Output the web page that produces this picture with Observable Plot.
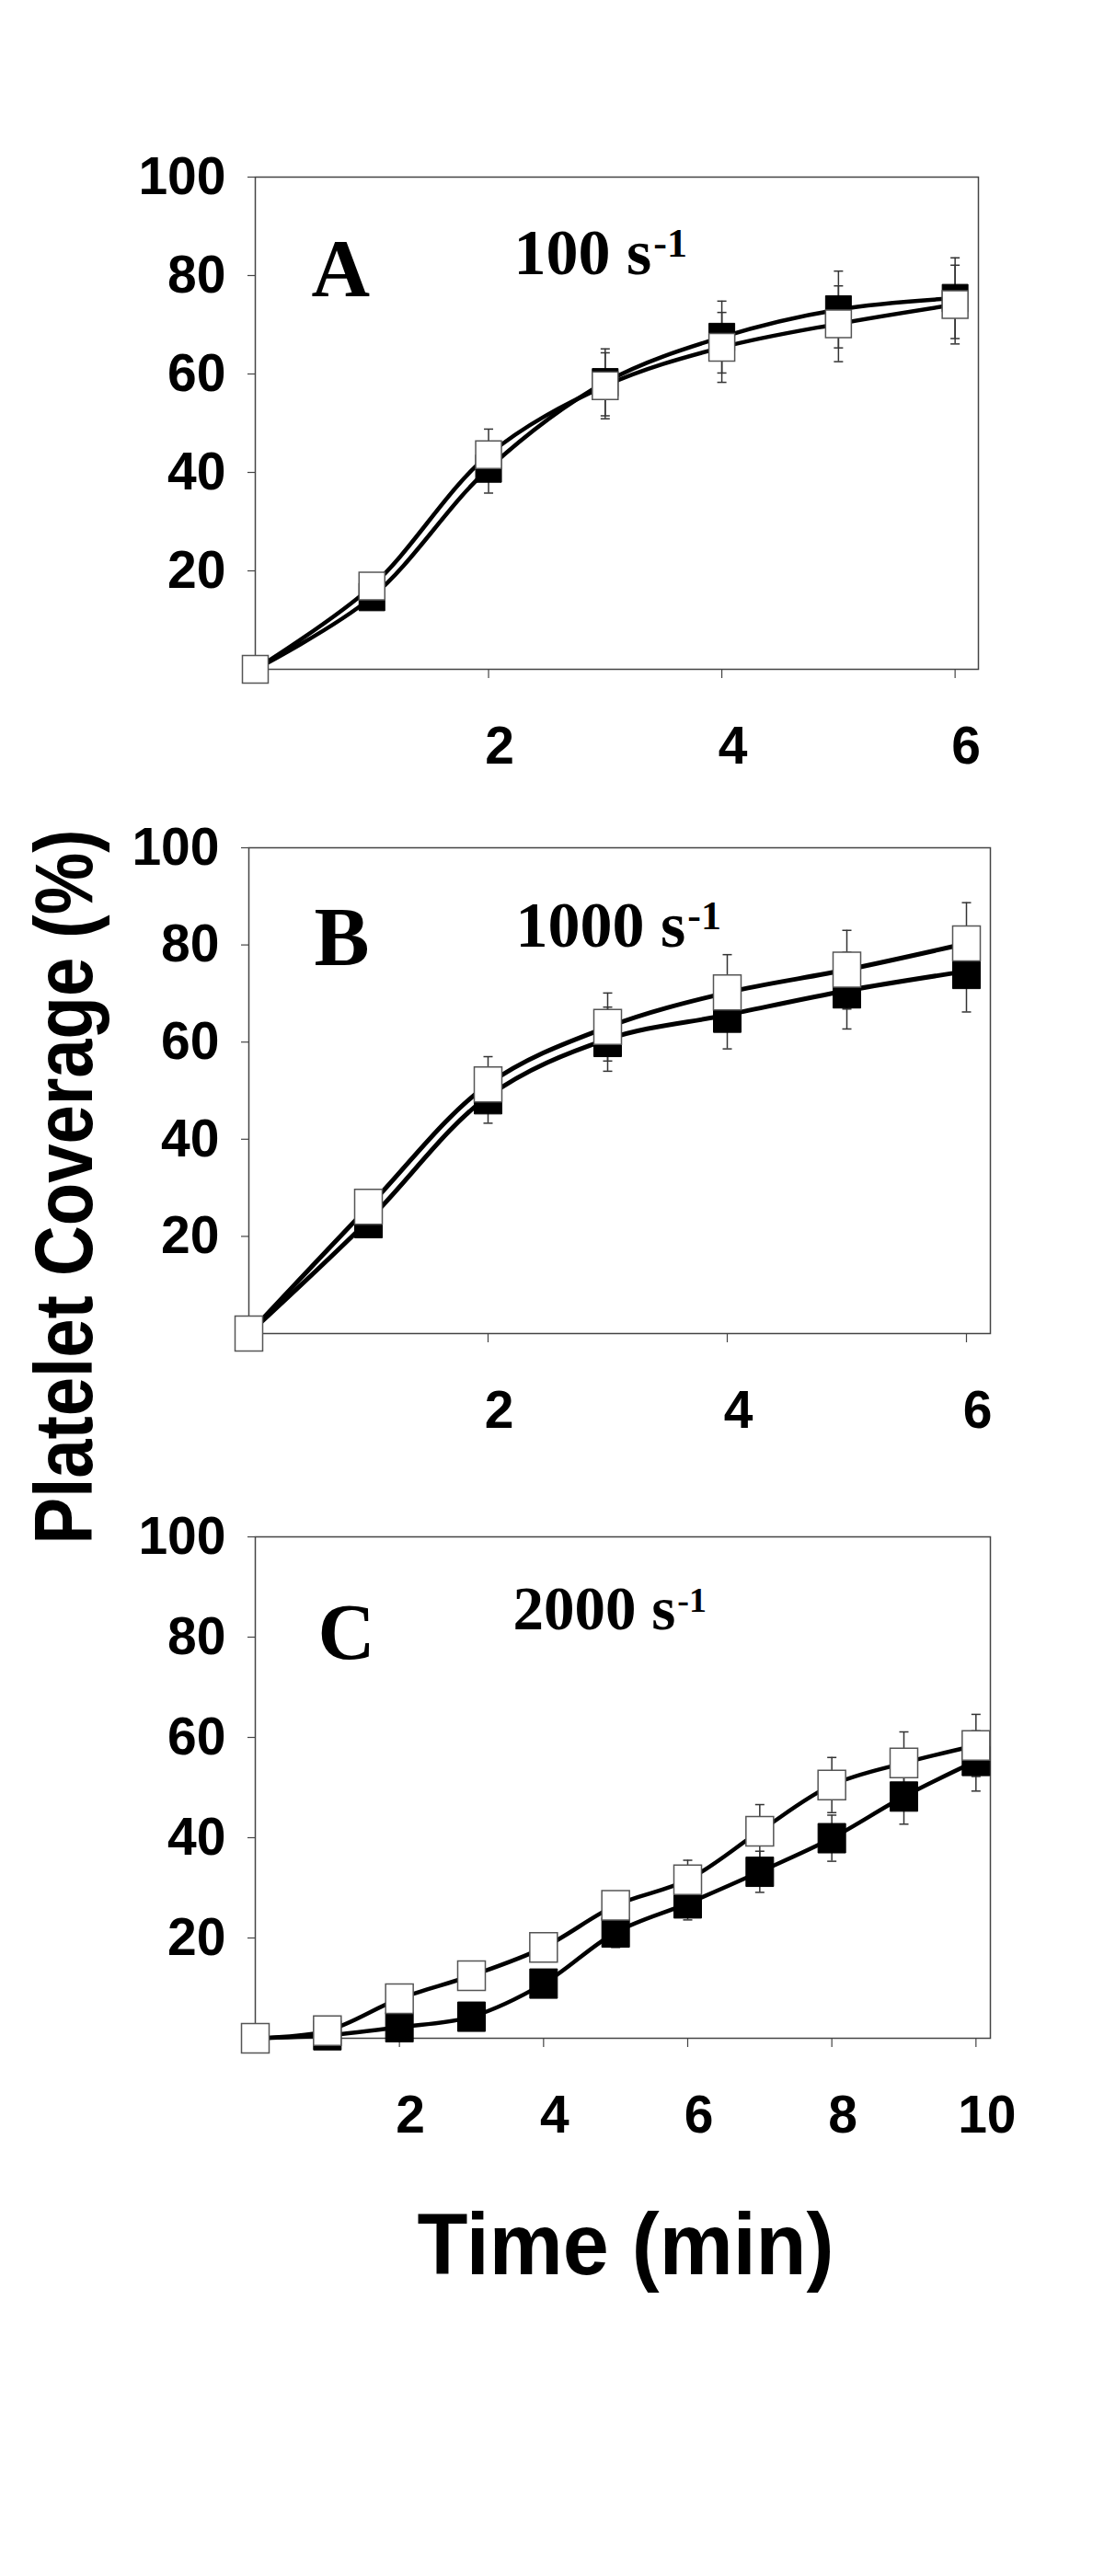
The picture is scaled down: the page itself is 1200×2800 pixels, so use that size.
<!DOCTYPE html>
<html>
<head>
<meta charset="utf-8">
<script src="https://cdn.jsdelivr.net/npm/d3@7"></script>
<script src="https://cdn.jsdelivr.net/npm/@observablehq/plot@0.6"></script>
<style>
  html, body { margin: 0; padding: 0; background: #fff; overflow: hidden; }
  #page { position: relative; width: 1200px; height: 2800px; background: #fff; }
  .panel { position: absolute; left: 0; }
  #titles { position: absolute; left: 0; top: 0; pointer-events: none; }
</style>
</head>
<body>
<div id="page"></div>
<script>
// ---------- DATA ----------
const panelLetters = ["A", "B", "C"];
const shearLabels = ["100 s", "1000 s", "2000 s"];
const shearExponent = "-1";
const yTicks = [20, 40, 60, 80, 100];
const xTicksAB = [2, 4, 6];
const xTicksC = [2, 4, 6, 8, 10];
const yAxisTitle = "Platelet Coverage (%)";
const xAxisTitle = "Time (min)";

// Panel A — 100 s-1
const timeA = [0, 1, 2, 3, 4, 5, 6];
const aFilled = [0, 14.7, 40.8, 58.3, 67.5, 73.1, 75.4];
const aFilledSD = [0, 2.5, 5.0, 6.8, 7.3, 7.8, 8.2];
const aOpen = [0, 16.9, 43.6, 57.6, 65.4, 70.2, 74.1];
const aOpenSD = [0, 2.0, 5.2, 6.7, 7.1, 7.7, 8.0];

// Panel B — 1000 s-1
const timeB = [0, 1, 2, 3, 4, 5, 6];
const bFilled = [0, 23.3, 48.8, 60.6, 65.6, 70.6, 74.6];
const bFilledSD = [0, 2.0, 5.5, 6.6, 7.0, 7.9, 8.4];
const bOpen = [0, 26.1, 51.3, 63.1, 70.2, 74.9, 80.3];
const bOpenSD = [0, 2.0, 5.7, 7.0, 7.8, 8.1, 8.4];

// Panel C — 2000 s-1
const timeC = [0, 1, 2, 3, 4, 5, 6, 7, 8, 9, 10];
const cFilled = [0, 0.6, 2.2, 4.3, 10.9, 21.1, 26.9, 33.2, 39.9, 48.2, 55.3];
const cFilledSD = [0, 0.5, 1.0, 1.5, 2.0, 3.0, 3.3, 4.1, 4.6, 5.5, 6.0];
const cOpen = [0, 1.5, 7.9, 12.5, 18.1, 26.5, 31.6, 41.3, 50.5, 54.9, 58.4];
const cOpenSD = [0, 0.5, 1.0, 1.5, 2.0, 2.8, 3.9, 5.3, 5.5, 6.2, 6.2];

// ---------- LAYOUT / STYLE ----------
const layouts = [
  {top: 140, height: 717, marginTop: 52, marginBottom: 130, marginLeft: 277, marginRight: 137, xMax: 6.2, xTicks: xTicksAB,
   markW: 28, markH: 30, lineW: 4.5,
   letter: {dx: 61, dy: 128, size: 88}, title: {dx: 281, dy: 105, size: 70}, sup: {dy: 86, size: 44}},
  {top: 870, height: 709, marginTop: 51, marginBottom: 130, marginLeft: 270, marginRight: 124, xMax: 6.2, xTicks: xTicksAB,
   markW: 30, markH: 38, lineW: 5,
   letter: {dx: 71, dy: 127, size: 90}, title: {dx: 290, dy: 107, size: 70}, sup: {dy: 88, size: 44}},
  {top: 1620, height: 725, marginTop: 50, marginBottom: 130, marginLeft: 277, marginRight: 124, xMax: 10.2, xTicks: xTicksC,
   markW: 30, markH: 32, lineW: 4.5,
   letter: {dx: 68, dy: 132, size: 86}, title: {dx: 280, dy: 100, size: 67}, sup: {dy: 81, size: 38}}
];

const series = [
  {time: timeA, filled: aFilled, filledSD: aFilledSD, open: aOpen, openSD: aOpenSD},
  {time: timeB, filled: bFilled, filledSD: bFilledSD, open: bOpen, openSD: bOpenSD},
  {time: timeC, filled: cFilled, filledSD: cFilledSD, open: cOpen, openSD: cOpenSD}
];

const SANS = "'Liberation Sans', Arial, Helvetica, sans-serif";
const SERIF = "'Liberation Serif', 'Times New Roman', Times, serif";

function rectSymbol(w, h) {
  return {draw(ctx) { ctx.rect(-w / 2, -h / 2, w, h); }};
}
function capSymbol(w) {
  return {draw(ctx) { ctx.moveTo(-w / 2, 0); ctx.lineTo(w / 2, 0); }};
}

const measureCtx = document.createElement("canvas").getContext("2d");
function textWidth(str, size) {
  measureCtx.font = `bold ${size}px ${SERIF}`;
  return measureCtx.measureText(str).width;
}
const intFormat = d => String(d);

const page = document.getElementById("page");

layouts.forEach((L, i) => {
  const s = series[i];
  const filledRows = s.time.map((t, k) => ({t, v: s.filled[k], sd: s.filledSD[k]}));
  const openRows = s.time.map((t, k) => ({t, v: s.open[k], sd: s.openSD[k]}));
  const errRows = filledRows.concat(openRows).filter(d => d.sd > 0);

  const titleW = textWidth(shearLabels[i], L.title.size);

  const plot = Plot.plot({
    width: 1200,
    height: L.height,
    marginTop: L.marginTop,
    marginBottom: L.marginBottom,
    marginLeft: L.marginLeft,
    marginRight: L.marginRight,
    style: {fontFamily: SANS, fontSize: "57px", fontWeight: "bold", color: "black", background: "white", overflow: "visible"},
    x: {domain: [0, L.xMax]},
    y: {domain: [0, 100]},
    marks: [
      Plot.frame({stroke: "#444", strokeWidth: 1.5}),
      Plot.axisY({ticks: yTicks, tickFormat: intFormat, tickSize: 8, tickPadding: 24, label: null, stroke: "#444", strokeWidth: 1.2}),
      Plot.axisX({ticks: L.xTicks, tickSize: 10, label: null, fill: "none", stroke: "#444", strokeWidth: 1.2}),
      Plot.axisX({ticks: L.xTicks, tickFormat: intFormat, tickSize: 0, tickPadding: 62, dx: 12, label: null}),
      // error bars
      Plot.ruleX(errRows, {x: "t", y1: d => d.v - d.sd, y2: d => d.v + d.sd, stroke: "#333", strokeWidth: 1.5}),
      Plot.dot(errRows, {x: "t", y: d => d.v + d.sd, symbol: capSymbol(10), r: 5, fill: "none", stroke: "#333", strokeWidth: 1.5}),
      Plot.dot(errRows, {x: "t", y: d => d.v - d.sd, symbol: capSymbol(10), r: 5, fill: "none", stroke: "#333", strokeWidth: 1.5}),
      // smoothed lines
      Plot.line(filledRows, {x: "t", y: "v", curve: "catmull-rom", stroke: "black", strokeWidth: L.lineW}),
      Plot.line(openRows, {x: "t", y: "v", curve: "catmull-rom", stroke: "black", strokeWidth: L.lineW}),
      // markers
      Plot.dot(filledRows, {x: "t", y: "v", symbol: rectSymbol(L.markW, L.markH), r: 10, fill: "black", stroke: "black", strokeWidth: 1}),
      Plot.dot(openRows, {x: "t", y: "v", symbol: rectSymbol(L.markW, L.markH), r: 10, fill: "white", stroke: "#555", strokeWidth: 1.5}),
      // panel letter and shear-rate label
      Plot.text([panelLetters[i]], {text: d => d, frameAnchor: "top-left", dx: L.letter.dx, dy: L.letter.dy,
        textAnchor: "start", lineAnchor: "bottom", fontFamily: SERIF, fontWeight: "bold", fontSize: L.letter.size, fill: "black"}),
      Plot.text([shearLabels[i]], {text: d => d, frameAnchor: "top-left", dx: L.title.dx, dy: L.title.dy,
        textAnchor: "start", lineAnchor: "bottom", fontFamily: SERIF, fontWeight: "bold", fontSize: L.title.size, fill: "black"}),
      Plot.text([shearExponent], {text: d => d, frameAnchor: "top-left", dx: L.title.dx + titleW + 2, dy: L.sup.dy,
        textAnchor: "start", lineAnchor: "bottom", fontFamily: SERIF, fontWeight: "bold", fontSize: L.sup.size, fill: "black"})
    ]
  });
  plot.classList.add("panel");
  plot.style.position = "absolute";
  plot.style.top = L.top + "px";
  plot.style.left = "0px";
  plot.style.maxWidth = "none";
  page.appendChild(plot);
});

// axis titles shared by the three panels
const NS = "http://www.w3.org/2000/svg";
const tsvg = document.createElementNS(NS, "svg");
tsvg.setAttribute("id", "titles");
tsvg.setAttribute("width", 1200);
tsvg.setAttribute("height", 2800);
const yt = document.createElementNS(NS, "text");
yt.textContent = yAxisTitle;
yt.setAttribute("transform", "translate(100,1290) rotate(-90)");
yt.setAttribute("text-anchor", "middle");
yt.setAttribute("font-family", SANS);
yt.setAttribute("font-weight", "bold");
yt.setAttribute("font-size", 89);
yt.setAttribute("textLength", 777);
yt.setAttribute("lengthAdjust", "spacingAndGlyphs");
tsvg.appendChild(yt);
const xt = document.createElementNS(NS, "text");
xt.textContent = xAxisTitle;
xt.setAttribute("x", 680);
xt.setAttribute("y", 2472);
xt.setAttribute("text-anchor", "middle");
xt.setAttribute("font-family", SANS);
xt.setAttribute("font-weight", "bold");
xt.setAttribute("font-size", 94);
xt.setAttribute("textLength", 453);
xt.setAttribute("lengthAdjust", "spacingAndGlyphs");
tsvg.appendChild(xt);
page.appendChild(tsvg);
</script>
</body>
</html>
